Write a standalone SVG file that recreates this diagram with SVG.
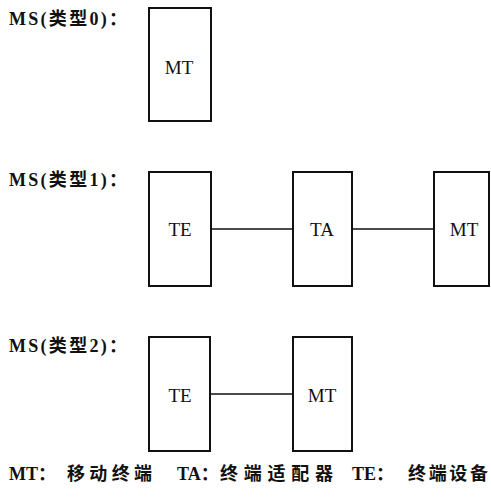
<svg xmlns="http://www.w3.org/2000/svg" width="491" height="502" viewBox="0 0 491 502">
<style>
.box{fill:#fff;stroke:#111;stroke-width:2}
.lbl{font-family:"Liberation Serif","Noto Sans CJK SC",serif;font-weight:bold;font-size:18px;fill:#111}
.nt{font-family:"Liberation Serif",serif;font-size:19px;fill:#111;text-anchor:middle}
.con{stroke:#111;stroke-width:1.3;fill:none}
</style>
<rect width="491" height="502" fill="#fff"/>
<g id="connectors">
<line class="con" x1="211" y1="229" x2="293" y2="229"/>
<line class="con" x1="352" y1="229" x2="434" y2="229"/>
<line class="con" x1="210" y1="394" x2="293" y2="394"/>
</g>
<g id="label0"><text class="lbl" x="9" y="25" textLength="118" lengthAdjust="spacing">MS(类型0)：</text></g>
<g id="label1"><text class="lbl" x="9" y="186" textLength="118" lengthAdjust="spacing">MS(类型1)：</text></g>
<g id="label2"><text class="lbl" x="9" y="352" textLength="118" lengthAdjust="spacing">MS(类型2)：</text></g>
<g id="n0-mt"><rect class="box" x="149" y="8" width="62" height="113"/><text class="nt" x="179" y="74">MT</text></g>
<g id="n1-te"><rect class="box" x="149" y="172" width="62" height="114"/><text class="nt" x="180" y="236">TE</text></g>
<g id="n1-ta"><rect class="box" x="293" y="172" width="59" height="114"/><text class="nt" x="322" y="236">TA</text></g>
<g id="n1-mt"><rect class="box" x="434" y="172" width="55" height="114"/><text class="nt" x="464" y="236">MT</text></g>
<g id="n2-te"><rect class="box" x="149" y="337" width="61" height="114"/><text class="nt" x="180" y="402">TE</text></g>
<g id="n2-mt"><rect class="box" x="293" y="337" width="59" height="114"/><text class="nt" x="322" y="402">MT</text></g>
<g id="legend">
<text class="lbl" x="9" y="480">MT：</text>
<text class="lbl" x="67" y="480" textLength="85" lengthAdjust="spacing">移动终端</text>
<text class="lbl" x="177" y="480">TA：</text>
<text class="lbl" x="220" y="480" textLength="113" lengthAdjust="spacing">终端适配器</text>
<text class="lbl" x="352" y="480">TE：</text>
<text class="lbl" x="408" y="480" textLength="80" lengthAdjust="spacing">终端设备</text>
</g>
</svg>
